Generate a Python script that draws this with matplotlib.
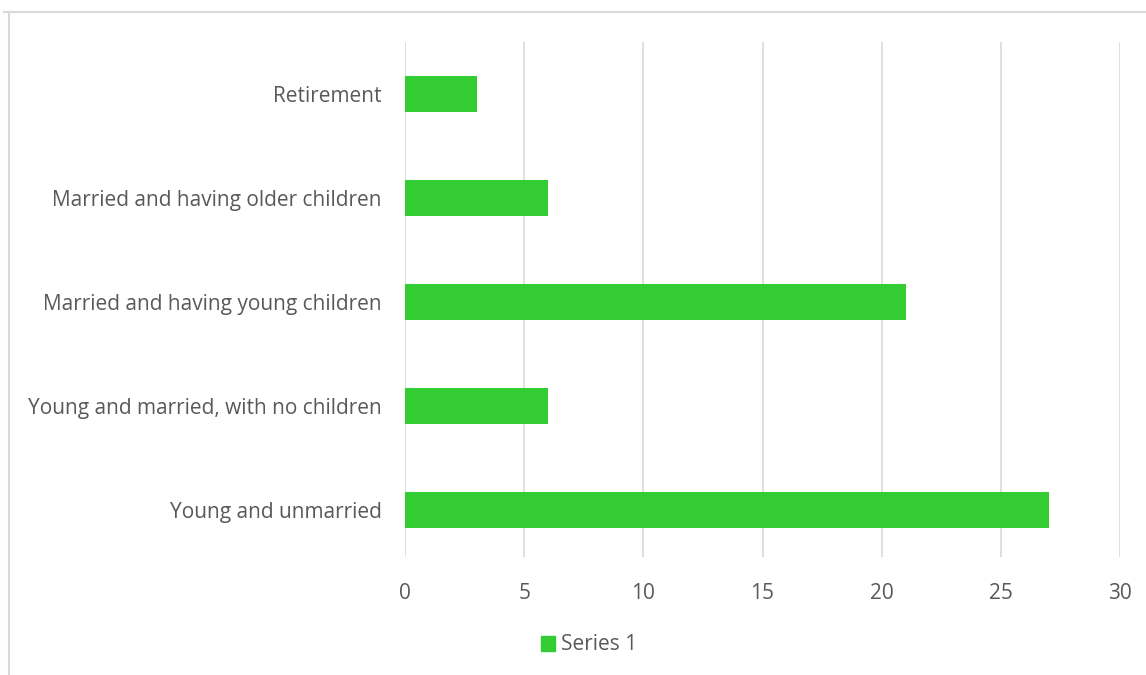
import matplotlib.pyplot as plt
from matplotlib.lines import Line2D
from matplotlib.patches import Patch

categories = ['Young and unmarried', 'Young and married, with no children',
              'Married and having young children', 'Married and having older children',
              'Retirement']
values = [27, 6, 21, 6, 3]
xticks = [0, 5, 10, 15, 20, 25, 30]

bar_color = '#33CC33'
text_color = '#595959'
plt.rcParams['font.family'] = ['Open Sans', 'DejaVu Sans']

fig = plt.figure(figsize=(11.46, 6.75), dpi=100)
ax = fig.add_axes([405 / 1146, 1 - 557 / 675, 715 / 1146, 515 / 675])

ax.barh(range(len(categories)), values, height=0.35, color=bar_color, zorder=3)
ax.set_xlim(0, 30)
ax.set_ylim(-0.452, 4.5)
ax.set_xticks(xticks)
ax.set_xticklabels([str(t) for t in xticks])
ax.set_yticks(range(len(categories)))
ax.set_yticklabels(categories)
ax.tick_params(axis='both', length=0, labelsize=15, colors=text_color)
ax.tick_params(axis='x', pad=19)
ax.tick_params(axis='y', pad=17)
ax.grid(axis='x', color='#d9d9d9', linewidth=1.2, zorder=0)
for s in ax.spines.values():
    s.set_visible(False)

# outer chart border (only top and left visible in the crop)
fig.add_artist(Line2D([4 / 1146, 1], [1 - 12 / 675, 1 - 12 / 675],
                      color='#d9d9d9', linewidth=1.5))
fig.add_artist(Line2D([9 / 1146, 9 / 1146], [0, 1 - 12 / 675],
                      color='#d9d9d9', linewidth=1.5))

fig.legend(handles=[Patch(color=bar_color, label='Series 1')],
           loc='center', bbox_to_anchor=(589 / 1146, 1 - 645 / 675),
           frameon=False, fontsize=15, labelcolor=text_color,
           handlelength=0.7, handleheight=0.7, handletextpad=0.3)

fig.savefig('out.png', dpi=100)
